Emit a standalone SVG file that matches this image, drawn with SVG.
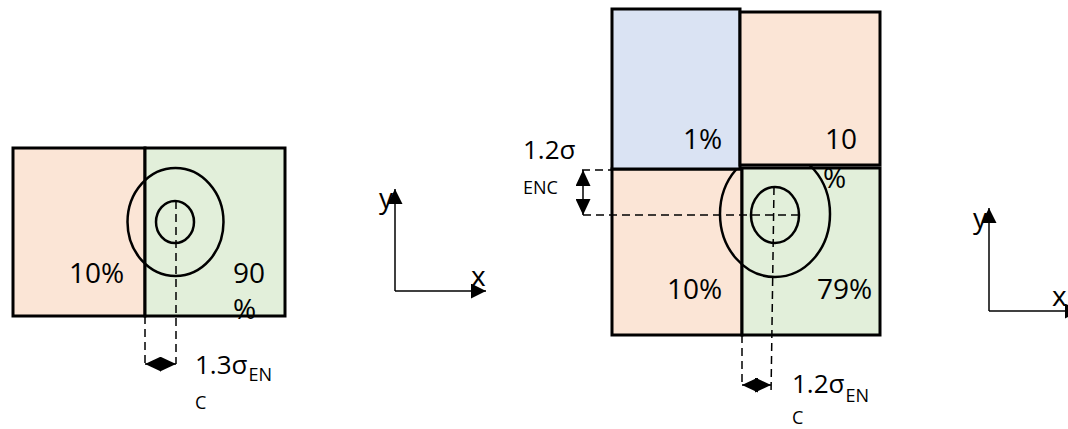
<svg xmlns="http://www.w3.org/2000/svg" width="1068" height="429" viewBox="0 0 1068 429">
<style>
.box{stroke:#000;stroke-width:3}
.peach{fill:#FBE5D6}
.green{fill:#E2EFDA}
.blue{fill:#DAE3F3}
.ring{fill:none;stroke:#000;stroke-width:2.5}
.dash{fill:none;stroke:#000;stroke-width:1.5;stroke-dasharray:8 5}
.axis{fill:none;stroke:#000;stroke-width:1.5}
.dim{fill:none;stroke:#000;stroke-width:1.5}
text{font-family:"Open Sans","Liberation Sans",sans-serif;fill:#000}
.pct{font-size:28px}
.sig{font-size:26px}
.sub{font-size:18px}
.lab{font-size:28px}
</style>
<defs>
<marker id="ah" viewBox="0 0 10 10" refX="10" refY="5" markerUnits="userSpaceOnUse" markerWidth="16" markerHeight="15" preserveAspectRatio="none" orient="auto-start-reverse">
<path d="M0,0 L10,5 L0,10 z" fill="#000"/>
</marker>
<marker id="ax" viewBox="0 0 10 10" refX="10" refY="5" markerUnits="userSpaceOnUse" markerWidth="15" markerHeight="15" preserveAspectRatio="none" orient="auto">
<path d="M0,0 L10,5 L0,10 z" fill="#000"/>
</marker>
</defs>

<!-- Left diagram -->
<g id="left-10">
<rect class="box peach" x="13" y="148" width="132" height="168"/>
<text class="pct" x="69" y="283">10%</text>
</g>
<g id="left-90">
<rect class="box green" x="145" y="148" width="140" height="168"/>
<text class="pct" x="233" y="283">90</text>
<text class="pct" x="233" y="319">%</text>
</g>
<g id="left-rings">
<ellipse class="ring" cx="175.5" cy="222" rx="48" ry="54"/>
<ellipse class="ring" cx="175" cy="222" rx="19" ry="21"/>
</g>
<g id="left-label">
<text class="sig" x="195" y="374">1.3σ<tspan class="sub" dx="1" dy="7">EN</tspan></text>
<text class="sub" x="195" y="409">C</text>
</g>
<g id="left-axes">
<line class="axis" x1="395" y1="291" x2="395" y2="189" marker-end="url(#ax)"/>
<line class="axis" x1="395" y1="291" x2="486" y2="291" marker-end="url(#ax)"/>
<text class="lab" x="379" y="208">y</text>
<text class="lab" x="471" y="286">x</text>
</g>

<!-- Right diagram -->
<g id="right-10-lower">
<rect class="box peach" x="612" y="169" width="130" height="166"/>
<text class="pct" x="667" y="299">10%</text>
</g>
<g id="right-79">
<rect class="box green" x="742" y="168" width="138" height="167"/>
<text class="pct" x="817" y="299">79%</text>
</g>
<g id="right-rings">
<ellipse class="ring" cx="775" cy="214" rx="55" ry="63"/>
<ellipse class="ring" cx="775" cy="215" rx="24" ry="28"/>
</g>
<g id="right-1">
<rect class="box blue" x="612" y="9" width="128" height="160"/>
<text class="pct" x="683" y="149">1%</text>
</g>
<g id="right-10-upper">
<rect class="box peach" x="740" y="12" width="140" height="153"/>
<text class="pct" x="825" y="149">10</text>
</g>
<text class="pct" x="823" y="188">%</text>
<g id="right-label-v">
<text class="sig" x="523" y="159">1.2σ</text>
<text class="sub" x="523" y="194">ENC</text>
</g>
<g id="right-label-h">
<text class="sig" x="792" y="393">1.2σ<tspan class="sub" dx="1" dy="9">EN</tspan></text>
<text class="sub" x="792" y="424">C</text>
</g>
<g id="right-axes">
<line class="axis" x1="989" y1="311" x2="989" y2="208" marker-end="url(#ax)"/>
<line class="axis" x1="989" y1="311" x2="1080" y2="311" marker-end="url(#ax)"/>
<text class="lab" x="973" y="228">y</text>
<text class="lab" x="1052" y="306">x</text>
</g>

<!-- Connectors / dimension lines -->
<g id="connectors">
<line class="dash" x1="176" y1="201" x2="176" y2="364"/>
<line class="dash" x1="145" y1="316" x2="145" y2="364"/>
<line class="dim" x1="145" y1="364" x2="176" y2="364" marker-start="url(#ah)" marker-end="url(#ah)"/>

<line class="dash" x1="582" y1="170" x2="612" y2="170"/>
<line class="dash" x1="583" y1="215" x2="799" y2="215"/>
<line class="dim" x1="583" y1="170" x2="583" y2="215" marker-start="url(#ah)" marker-end="url(#ah)"/>

<line class="dash" x1="774" y1="187" x2="771" y2="395"/>
<line class="dash" x1="742" y1="335" x2="742" y2="385"/>
<line class="dim" x1="742" y1="385" x2="771" y2="385" marker-start="url(#ah)" marker-end="url(#ah)"/>
</g>
</svg>
